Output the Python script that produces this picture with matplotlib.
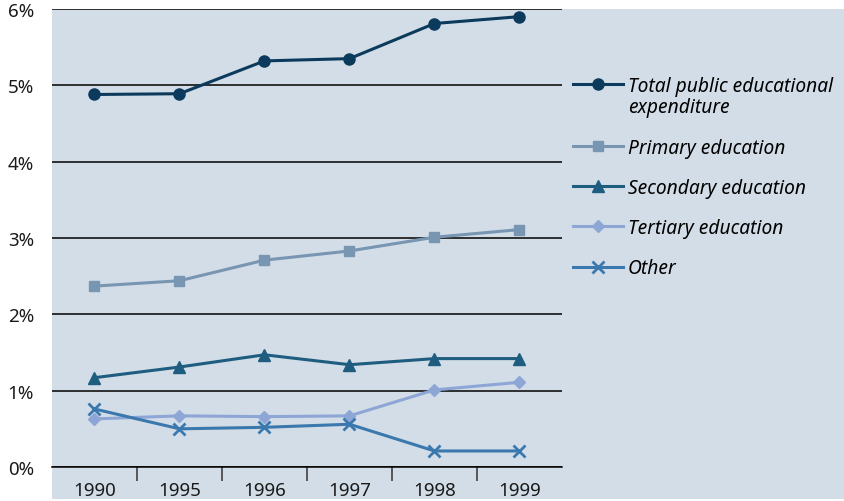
import matplotlib.pyplot as plt
from matplotlib.patches import Rectangle
import numpy as np

# ---- data (share of GDP, %) ----
years = ["1990", "1995", "1996", "1997", "1998", "1999"]
total = [4.88, 4.89, 5.32, 5.35, 5.81, 5.90]
primary = [2.37, 2.44, 2.71, 2.83, 3.01, 3.11]
secondary = [1.17, 1.31, 1.47, 1.34, 1.42, 1.42]
tertiary = [0.63, 0.67, 0.66, 0.67, 1.01, 1.11]
other = [0.76, 0.50, 0.52, 0.56, 0.21, 0.21]

series = [
    ("Total public educational", total, "#0b3a5c", "o", 8),
    ("Primary education", primary, "#7896b2", "s", 6.5),
    ("Secondary education", secondary, "#1e5d7f", "^", 8),
    ("Tertiary education", tertiary, "#8ea6d6", "D", 6),
    ("Other", other, "#3b78ad", "x", 9),
]

panel = "#d3dde7"
plt.rcParams["font.family"] = ["Noto Sans", "DejaVu Sans"]

fig = plt.figure(figsize=(8.45, 5.02), dpi=100, facecolor="white")
fig.patches.append(Rectangle((52 / 845, 2 / 502), 792 / 845, 490 / 502,
                             transform=fig.transFigure, facecolor=panel,
                             edgecolor="none", zorder=-10))

ax = fig.add_axes([52 / 845, 34 / 502, 510 / 845, 458 / 502])
ax.set_facecolor(panel)
ax.patch.set_alpha(0)

x = np.arange(len(years))
handles = []
for name, vals, color, marker, ms in series:
    mew = 2 if marker == "x" else 1
    ln, = ax.plot(x, vals, color=color, lw=2.2, marker=marker, ms=ms,
                  mew=mew, mec=color, mfc=color, clip_on=False, zorder=3)
    handles.append(ln)

ax.set_xlim(-0.5, len(years) - 0.5)
ax.set_ylim(0, 6)
ax.set_yticks(range(0, 7))
ax.set_yticklabels([f"{v}%" for v in range(0, 7)])
ax.yaxis.grid(True, color="black", lw=1.1)
ax.set_axisbelow(True)
for s in ["top", "left", "right"]:
    ax.spines[s].set_visible(False)
ax.spines["bottom"].set_color("black")
ax.spines["bottom"].set_linewidth(1.1)

ax.set_xticks(x)
ax.set_xticklabels(years)
ax.set_xticks(np.arange(0.5, len(years) - 1, 1), minor=True)
ax.tick_params(axis="x", which="major", length=0, pad=10, labelsize=13.5,
               labelcolor="#1a1a1a")
ax.tick_params(axis="x", which="minor", length=10, width=1.1, color="#333333")
ax.tick_params(axis="y", length=0, pad=13, labelsize=13.5, labelcolor="#1a1a1a")

# legend: first entry spans two lines, so it is built separately
leg_kw = dict(frameon=False, handlelength=2.6, handletextpad=0.25,
              prop={"style": "italic", "size": 13.8}, borderaxespad=0,
              borderpad=0, loc="center left")
leg1 = fig.legend(handles[:1], [series[0][0]],
                  bbox_to_anchor=(573 / 845, 1 - 87 / 502), **leg_kw)
leg2 = fig.legend(handles[1:], [s[0] for s in series[1:]], labelspacing=1.06,
                  bbox_to_anchor=(573 / 845, 1 - 209 / 502), **leg_kw)
fig.text(628 / 845, 1 - 108 / 502, "expenditure", fontsize=13.8,
         style="italic", va="center", ha="left")

fig.savefig("out.png", dpi=100)
